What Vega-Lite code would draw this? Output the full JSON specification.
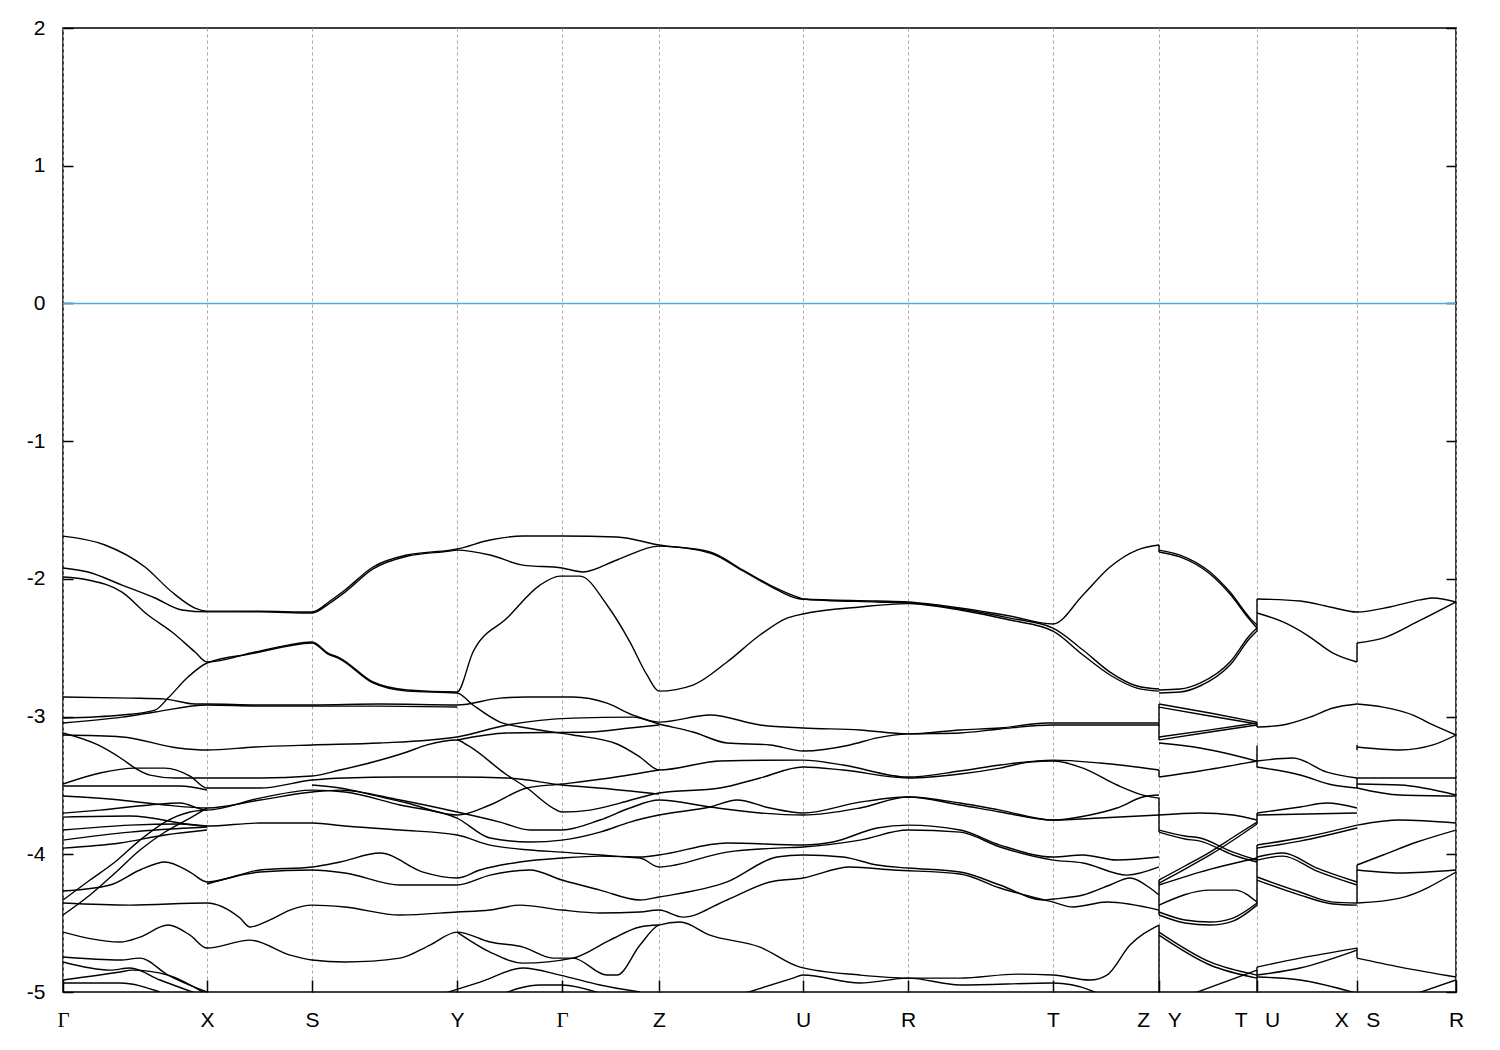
{
"$schema": "https://vega.github.io/schema/vega-lite/v6.json",
"width": 1393, "height": 964,
"autosize": {"type": "none"},
"padding": {"left": 63, "top": 28, "right": 44, "bottom": 58},
"background": "white",
"config": {"view": {"stroke": "black", "strokeWidth": 1.5}},
"resolve": {"axis": {"y": "independent", "x": "independent"}},
"datasets": {
"fermi": [{"e": 0}],
"jumps": [
{"b":"j1","x":1096,"e":-1.754},{"b":"j1","x":1096,"e":-1.805},
{"b":"j2","x":1096,"e":-2.909},{"b":"j2","x":1096,"e":-3.17},
{"b":"j3","x":1096,"e":-3.388},{"b":"j3","x":1096,"e":-3.439},
{"b":"j4","x":1096,"e":-3.592},{"b":"j4","x":1096,"e":-3.839},
{"b":"j5","x":1096,"e":-4.187},{"b":"j5","x":1096,"e":-4.441},
{"b":"j6","x":1096,"e":-4.514},{"b":"j6","x":1096,"e":-5.0},
{"b":"j7","x":1194,"e":-2.146},{"b":"j7","x":1194,"e":-2.38},
{"b":"j8","x":1194,"e":-3.04},{"b":"j8","x":1194,"e":-3.076},
{"b":"j9","x":1194,"e":-3.21},{"b":"j9","x":1194,"e":-3.37},
{"b":"j10","x":1194,"e":-3.7},{"b":"j10","x":1194,"e":-3.78},
{"b":"j11","x":1194,"e":-3.933},{"b":"j11","x":1194,"e":-4.369},
{"b":"j12","x":1194,"e":-4.819},{"b":"j12","x":1194,"e":-5.0},
{"b":"j13","x":1294,"e":-2.466},{"b":"j13","x":1294,"e":-2.604},
{"b":"j14","x":1294,"e":-3.206},{"b":"j14","x":1294,"e":-3.243},
{"b":"j15","x":1294,"e":-3.446},{"b":"j15","x":1294,"e":-3.519},
{"b":"j16","x":1294,"e":-4.078},{"b":"j16","x":1294,"e":-4.354},
{"b":"j17","x":1294,"e":-4.681},{"b":"j17","x":1294,"e":-4.754}
],
"bands": [
{"b":"A","x":0,"e":-1.69},{"b":"A","x":42,"e":-1.754},{"b":"A","x":82,"e":-1.914},{"b":"A","x":109,"e":-2.096},{"b":"A","x":132,"e":-2.212},{"b":"A","x":144,"e":-2.234},{"b":"A","x":197,"e":-2.235},{"b":"A","x":249,"e":-2.241},{"b":"A","x":267,"e":-2.161},{"b":"A","x":282,"e":-2.081},{"b":"A","x":310,"e":-1.914},{"b":"A","x":344,"e":-1.827},{"b":"A","x":387,"e":-1.791},{"b":"A","x":394,"e":-1.783},{"b":"A","x":427,"e":-1.718},{"b":"A","x":460,"e":-1.689},{"b":"A","x":499,"e":-1.689},{"b":"A","x":554,"e":-1.696},{"b":"A","x":596,"e":-1.754},{"b":"A","x":647,"e":-1.805},{"b":"A","x":680,"e":-1.936},{"b":"A","x":707,"e":-2.045},{"b":"A","x":737,"e":-2.139},{"b":"A","x":740,"e":-2.146},{"b":"A","x":814,"e":-2.161},{"b":"A","x":845,"e":-2.168},{"b":"A","x":897,"e":-2.212},{"b":"A","x":947,"e":-2.27},{"b":"A","x":990,"e":-2.328},{"b":"A","x":1020,"e":-2.117},{"b":"A","x":1047,"e":-1.914},{"b":"A","x":1074,"e":-1.791},{"b":"A","x":1096,"e":-1.754},
{"b":"A2","x":1096,"e":-1.791},{"b":"A2","x":1117,"e":-1.827},{"b":"A2","x":1147,"e":-1.95},{"b":"A2","x":1167,"e":-2.096},{"b":"A2","x":1187,"e":-2.285},{"b":"A2","x":1194,"e":-2.335},
{"b":"B","x":0,"e":-1.921},{"b":"B","x":25,"e":-1.95},{"b":"B","x":59,"e":-2.045},{"b":"B","x":92,"e":-2.139},{"b":"B","x":119,"e":-2.226},{"b":"B","x":144,"e":-2.24},{"b":"B","x":197,"e":-2.24},{"b":"B","x":249,"e":-2.248},{"b":"B","x":267,"e":-2.175},{"b":"B","x":282,"e":-2.096},{"b":"B","x":310,"e":-1.928},{"b":"B","x":344,"e":-1.836},{"b":"B","x":387,"e":-1.798},{"b":"B","x":394,"e":-1.791},{"b":"B","x":427,"e":-1.827},{"b":"B","x":460,"e":-1.9},{"b":"B","x":499,"e":-1.921},{"b":"B","x":520,"e":-1.95},{"b":"B","x":554,"e":-1.863},{"b":"B","x":596,"e":-1.762},{"b":"B","x":647,"e":-1.812},{"b":"B","x":680,"e":-1.943},{"b":"B","x":707,"e":-2.052},{"b":"B","x":737,"e":-2.146},{"b":"B","x":814,"e":-2.168},{"b":"B","x":845,"e":-2.175},{"b":"B","x":897,"e":-2.226},{"b":"B","x":947,"e":-2.299},{"b":"B","x":990,"e":-2.379},{"b":"B","x":1020,"e":-2.553},{"b":"B","x":1047,"e":-2.698},{"b":"B","x":1074,"e":-2.793},{"b":"B","x":1096,"e":-2.815},
{"b":"B2","x":1096,"e":-2.807},{"b":"B2","x":1117,"e":-2.8},{"b":"B2","x":1137,"e":-2.757},{"b":"B2","x":1167,"e":-2.604},{"b":"B2","x":1187,"e":-2.408},{"b":"B2","x":1194,"e":-2.357},
{"b":"C","x":0,"e":-1.987},{"b":"C","x":25,"e":-2.008},{"b":"C","x":59,"e":-2.096},{"b":"C","x":85,"e":-2.263},{"b":"C","x":109,"e":-2.386},{"b":"C","x":132,"e":-2.531},{"b":"C","x":144,"e":-2.604},{"b":"C","x":192,"e":-2.531},{"b":"C","x":225,"e":-2.481},{"b":"C","x":249,"e":-2.459},{"b":"C","x":265,"e":-2.539},{"b":"C","x":277,"e":-2.575},{"b":"C","x":310,"e":-2.749},{"b":"C","x":344,"e":-2.807},{"b":"C","x":394,"e":-2.822},{"b":"C","x":410,"e":-2.531},{"b":"C","x":444,"e":-2.285},{"b":"C","x":477,"e":-2.045},{"b":"C","x":497,"e":-1.98},{"b":"C","x":517,"e":-1.98},{"b":"C","x":544,"e":-2.19},{"b":"C","x":567,"e":-2.459},{"b":"C","x":584,"e":-2.698},{"b":"C","x":596,"e":-2.815},{"b":"C","x":630,"e":-2.771},{"b":"C","x":664,"e":-2.604},{"b":"C","x":697,"e":-2.408},{"b":"C","x":724,"e":-2.285},{"b":"C","x":740,"e":-2.255},{"b":"C","x":797,"e":-2.204},{"b":"C","x":845,"e":-2.18},{"b":"C","x":897,"e":-2.219},{"b":"C","x":947,"e":-2.285},{"b":"C","x":990,"e":-2.357},{"b":"C","x":1020,"e":-2.517},{"b":"C","x":1047,"e":-2.677},{"b":"C","x":1074,"e":-2.778},{"b":"C","x":1096,"e":-2.8},
{"b":"C2","x":1096,"e":-1.805},{"b":"C2","x":1117,"e":-1.841},{"b":"C2","x":1147,"e":-1.965},{"b":"C2","x":1167,"e":-2.11},{"b":"C2","x":1187,"e":-2.299},{"b":"C2","x":1194,"e":-2.357},
{"b":"C3","x":1096,"e":-2.829},{"b":"C3","x":1117,"e":-2.822},{"b":"C3","x":1137,"e":-2.778},{"b":"C3","x":1167,"e":-2.626},{"b":"C3","x":1187,"e":-2.43},{"b":"C3","x":1194,"e":-2.379},
{"b":"U1","x":1194,"e":-2.146},{"b":"U1","x":1237,"e":-2.161},{"b":"U1","x":1267,"e":-2.204},{"b":"U1","x":1294,"e":-2.241},{"b":"U1","x":1327,"e":-2.204},{"b":"U1","x":1357,"e":-2.153},{"b":"U1","x":1370,"e":-2.139},{"b":"U1","x":1393,"e":-2.168},
{"b":"U2a","x":1194,"e":-2.248},{"b":"U2a","x":1220,"e":-2.313},{"b":"U2a","x":1244,"e":-2.408},{"b":"U2a","x":1270,"e":-2.539},{"b":"U2a","x":1294,"e":-2.604},
{"b":"U2b","x":1294,"e":-2.466},{"b":"U2b","x":1320,"e":-2.43},{"b":"U2b","x":1354,"e":-2.313},{"b":"U2b","x":1393,"e":-2.168},
{"b":"D","x":0,"e":-2.858},{"b":"D","x":67,"e":-2.866},{"b":"D","x":102,"e":-2.873},{"b":"D","x":132,"e":-2.909},{"b":"D","x":144,"e":-2.909},{"b":"D","x":197,"e":-2.916},{"b":"D","x":249,"e":-2.916},{"b":"D","x":317,"e":-2.909},{"b":"D","x":394,"e":-2.916},{"b":"D","x":437,"e":-2.866},{"b":"D","x":464,"e":-2.858},{"b":"D","x":510,"e":-2.858},{"b":"D","x":544,"e":-2.902},{"b":"D","x":570,"e":-2.989},{"b":"D","x":596,"e":-3.04},{"b":"D","x":647,"e":-2.989},{"b":"D","x":697,"e":-3.061},{"b":"D","x":740,"e":-3.083},{"b":"D","x":797,"e":-3.097},{"b":"D","x":845,"e":-3.126},{"b":"D","x":897,"e":-3.097},{"b":"D","x":937,"e":-3.083},{"b":"D","x":984,"e":-3.047},{"b":"D","x":1037,"e":-3.047},{"b":"D","x":1096,"e":-3.047},
{"b":"E","x":0,"e":-3.011},{"b":"E","x":59,"e":-2.989},{"b":"E","x":92,"e":-2.953},{"b":"E","x":105,"e":-2.866},{"b":"E","x":125,"e":-2.713},{"b":"E","x":144,"e":-2.611},{"b":"E","x":192,"e":-2.539},{"b":"E","x":225,"e":-2.488},{"b":"E","x":249,"e":-2.466},{"b":"E","x":265,"e":-2.546},{"b":"E","x":277,"e":-2.582},{"b":"E","x":310,"e":-2.756},{"b":"E","x":344,"e":-2.815},{"b":"E","x":394,"e":-2.829},{"b":"E","x":410,"e":-2.916},{"b":"E","x":437,"e":-3.04},{"b":"E","x":464,"e":-3.083},{"b":"E","x":510,"e":-3.134},{"b":"E","x":554,"e":-3.199},{"b":"E","x":577,"e":-3.294},{"b":"E","x":596,"e":-3.388},{"b":"E","x":657,"e":-3.323},{"b":"E","x":740,"e":-3.316},{"b":"E","x":780,"e":-3.352},{"b":"E","x":845,"e":-3.439},{"b":"E","x":897,"e":-3.395},{"b":"E","x":937,"e":-3.352},{"b":"E","x":990,"e":-3.316},{"b":"E","x":1037,"e":-3.337},{"b":"E","x":1096,"e":-3.388},
{"b":"L3","x":0,"e":-3.047},{"b":"L3","x":59,"e":-3.004},{"b":"L3","x":92,"e":-2.967},{"b":"L3","x":144,"e":-2.916},{"b":"L3","x":197,"e":-2.924},{"b":"L3","x":249,"e":-2.924},{"b":"L3","x":317,"e":-2.924},{"b":"L3","x":394,"e":-2.931},
{"b":"b","x":0,"e":-3.134},{"b":"b","x":59,"e":-3.148},{"b":"b","x":115,"e":-3.228},{"b":"b","x":144,"e":-3.243},{"b":"b","x":192,"e":-3.221},{"b":"b","x":249,"e":-3.206},{"b":"b","x":317,"e":-3.192},{"b":"b","x":394,"e":-3.148},{"b":"b","x":444,"e":-3.061},{"b":"b","x":510,"e":-3.011},{"b":"b","x":570,"e":-3.004},{"b":"b","x":596,"e":-3.054},{"b":"b","x":630,"e":-3.112},{"b":"b","x":664,"e":-3.192},{"b":"b","x":707,"e":-3.206},{"b":"b","x":740,"e":-3.25},{"b":"b","x":787,"e":-3.206},{"b":"b","x":814,"e":-3.155},{"b":"b","x":845,"e":-3.126},{"b":"b","x":897,"e":-3.119},{"b":"b","x":937,"e":-3.09},{"b":"b","x":990,"e":-3.061},{"b":"b","x":1037,"e":-3.061},{"b":"b","x":1096,"e":-3.061},
{"b":"G","x":394,"e":-3.17},{"b":"G","x":444,"e":-3.119},{"b":"G","x":527,"e":-3.112},{"b":"G","x":567,"e":-3.083},{"b":"G","x":596,"e":-3.061},
{"b":"a","x":0,"e":-3.119},{"b":"a","x":35,"e":-3.206},{"b":"a","x":59,"e":-3.308},{"b":"a","x":72,"e":-3.374},{"b":"a","x":87,"e":-3.425},{"b":"a","x":112,"e":-3.446},{"b":"a","x":144,"e":-3.446},{"b":"a","x":197,"e":-3.446},{"b":"a","x":249,"e":-3.432},{"b":"a","x":277,"e":-3.388},{"b":"a","x":310,"e":-3.33},{"b":"a","x":344,"e":-3.257},{"b":"a","x":364,"e":-3.206},{"b":"a","x":394,"e":-3.17},{"b":"a","x":404,"e":-3.206},{"b":"a","x":444,"e":-3.424},{"b":"a","x":464,"e":-3.519},{"b":"a","x":490,"e":-3.664},{"b":"a","x":499,"e":-3.693},{"b":"a","x":527,"e":-3.679},{"b":"a","x":557,"e":-3.628},{"b":"a","x":596,"e":-3.555},{"b":"a","x":657,"e":-3.519},{"b":"a","x":697,"e":-3.446},{"b":"a","x":740,"e":-3.366},{"b":"a","x":780,"e":-3.388},{"b":"a","x":845,"e":-3.446},{"b":"a","x":897,"e":-3.417},{"b":"a","x":937,"e":-3.374},{"b":"a","x":967,"e":-3.33},{"b":"a","x":990,"e":-3.323},{"b":"a","x":1020,"e":-3.374},{"b":"a","x":1054,"e":-3.497},{"b":"a","x":1080,"e":-3.57},{"b":"a","x":1096,"e":-3.592},
{"b":"c","x":0,"e":-3.49},{"b":"c","x":37,"e":-3.41},{"b":"c","x":72,"e":-3.374},{"b":"c","x":102,"e":-3.374},{"b":"c","x":127,"e":-3.432},{"b":"c","x":144,"e":-3.519},{"b":"c","x":197,"e":-3.519},{"b":"c","x":249,"e":-3.461},{"b":"c","x":282,"e":-3.446},{"b":"c","x":337,"e":-3.439},{"b":"c","x":394,"e":-3.439},{"b":"c","x":444,"e":-3.446},{"b":"c","x":499,"e":-3.497},{"b":"c","x":547,"e":-3.526},{"b":"c","x":596,"e":-3.563},
{"b":"c2","x":0,"e":-3.504},{"b":"c2","x":67,"e":-3.504},{"b":"c2","x":117,"e":-3.504},{"b":"c2","x":144,"e":-3.533},
{"b":"H","x":249,"e":-3.497},{"b":"H","x":277,"e":-3.519},{"b":"H","x":310,"e":-3.57},{"b":"H","x":344,"e":-3.628},{"b":"H","x":394,"e":-3.715},{"b":"H","x":427,"e":-3.642},{"b":"H","x":464,"e":-3.519},{"b":"H","x":499,"e":-3.49},{"b":"H","x":547,"e":-3.446},{"b":"H","x":596,"e":-3.388},
{"b":"I1","x":0,"e":-3.577},{"b":"I1","x":57,"e":-3.606},{"b":"I1","x":102,"e":-3.642},{"b":"I1","x":144,"e":-3.664},{"b":"I1","x":197,"e":-3.606},{"b":"I1","x":249,"e":-3.548},{"b":"I1","x":277,"e":-3.534},{"b":"I1","x":337,"e":-3.606},{"b":"I1","x":394,"e":-3.693},{"b":"I1","x":437,"e":-3.766},{"b":"I1","x":467,"e":-3.824},{"b":"I1","x":499,"e":-3.824},{"b":"I1","x":537,"e":-3.751},{"b":"I1","x":567,"e":-3.664},{"b":"I1","x":596,"e":-3.606},{"b":"I1","x":647,"e":-3.657},{"b":"I1","x":697,"e":-3.7},{"b":"I1","x":740,"e":-3.715},{"b":"I1","x":797,"e":-3.664},{"b":"I1","x":845,"e":-3.584},{"b":"I1","x":897,"e":-3.628},{"b":"I1","x":937,"e":-3.679},{"b":"I1","x":990,"e":-3.751},{"b":"I1","x":1027,"e":-3.715},{"b":"I1","x":1054,"e":-3.664},{"b":"I1","x":1080,"e":-3.584},{"b":"I1","x":1096,"e":-3.57},
{"b":"I2","x":0,"e":-3.701},{"b":"I2","x":37,"e":-3.679},{"b":"I2","x":87,"e":-3.642},{"b":"I2","x":117,"e":-3.628},{"b":"I2","x":144,"e":-3.679},{"b":"I2","x":197,"e":-3.592},{"b":"I2","x":249,"e":-3.534},{"b":"I2","x":282,"e":-3.548},{"b":"I2","x":337,"e":-3.642},{"b":"I2","x":394,"e":-3.737},{"b":"I2","x":427,"e":-3.882},{"b":"I2","x":467,"e":-3.911},{"b":"I2","x":499,"e":-3.897},{"b":"I2","x":537,"e":-3.839},{"b":"I2","x":567,"e":-3.766},{"b":"I2","x":596,"e":-3.715},{"b":"I2","x":647,"e":-3.657},{"b":"I2","x":674,"e":-3.606},{"b":"I2","x":707,"e":-3.664},{"b":"I2","x":740,"e":-3.7},{"b":"I2","x":797,"e":-3.621},{"b":"I2","x":845,"e":-3.584},{"b":"I2","x":897,"e":-3.642},{"b":"I2","x":937,"e":-3.693},{"b":"I2","x":990,"e":-3.751},{"b":"I2","x":1037,"e":-3.737},{"b":"I2","x":1096,"e":-3.715},
{"b":"I3","x":0,"e":-3.73},{"b":"I3","x":67,"e":-3.722},{"b":"I3","x":144,"e":-3.795},{"b":"I3","x":197,"e":-3.773},{"b":"I3","x":249,"e":-3.773},{"b":"I3","x":282,"e":-3.795},{"b":"I3","x":337,"e":-3.824},{"b":"I3","x":394,"e":-3.86},{"b":"I3","x":427,"e":-3.933},{"b":"I3","x":467,"e":-3.969},{"b":"I3","x":499,"e":-3.984},{"b":"I3","x":537,"e":-4.005},{"b":"I3","x":577,"e":-4.02},{"b":"I3","x":596,"e":-4.005},{"b":"I3","x":664,"e":-3.918},{"b":"I3","x":740,"e":-3.933},{"b":"I3","x":770,"e":-3.911},{"b":"I3","x":814,"e":-3.809},{"b":"I3","x":845,"e":-3.788},{"b":"I3","x":897,"e":-3.824},{"b":"I3","x":937,"e":-3.933},{"b":"I3","x":990,"e":-4.02},{"b":"I3","x":1020,"e":-4.005},{"b":"I3","x":1054,"e":-4.042},{"b":"I3","x":1096,"e":-4.02},
{"b":"I4","x":0,"e":-3.824},{"b":"I4","x":67,"e":-3.788},{"b":"I4","x":117,"e":-3.78},{"b":"I4","x":144,"e":-3.795},
{"b":"I5","x":0,"e":-3.897},{"b":"I5","x":67,"e":-3.839},{"b":"I5","x":144,"e":-3.802},
{"b":"I5b","x":0,"e":-3.955},{"b":"I5b","x":57,"e":-3.918},{"b":"I5b","x":102,"e":-3.86},{"b":"I5b","x":144,"e":-3.824},
{"b":"I6","x":0,"e":-4.441},{"b":"I6","x":27,"e":-4.296},{"b":"I6","x":52,"e":-4.136},{"b":"I6","x":77,"e":-3.969},{"b":"I6","x":102,"e":-3.838},{"b":"I6","x":127,"e":-3.737},{"b":"I6","x":144,"e":-3.664},
{"b":"I7","x":0,"e":-4.332},{"b":"I7","x":27,"e":-4.187},{"b":"I7","x":52,"e":-4.056},{"b":"I7","x":77,"e":-3.897},{"b":"I7","x":102,"e":-3.766},{"b":"I7","x":127,"e":-3.693},{"b":"I7","x":144,"e":-3.679},
{"b":"I8","x":0,"e":-4.267},{"b":"I8","x":47,"e":-4.223},{"b":"I8","x":77,"e":-4.114},{"b":"I8","x":102,"e":-4.056},{"b":"I8","x":127,"e":-4.129},{"b":"I8","x":144,"e":-4.201},{"b":"I8","x":197,"e":-4.114},{"b":"I8","x":249,"e":-4.092},{"b":"I8","x":277,"e":-4.056},{"b":"I8","x":317,"e":-3.991},{"b":"I8","x":360,"e":-4.129},{"b":"I8","x":394,"e":-4.172},{"b":"I8","x":417,"e":-4.114},{"b":"I8","x":457,"e":-4.056},{"b":"I8","x":499,"e":-4.027},{"b":"I8","x":537,"e":-4.013},{"b":"I8","x":577,"e":-4.027},{"b":"I8","x":596,"e":-4.092},{"b":"I8","x":664,"e":-3.984},{"b":"I8","x":714,"e":-3.955},{"b":"I8","x":740,"e":-3.947},{"b":"I8","x":797,"e":-3.897},{"b":"I8","x":845,"e":-3.824},{"b":"I8","x":897,"e":-3.839},{"b":"I8","x":937,"e":-3.947},{"b":"I8","x":990,"e":-4.042},{"b":"I8","x":1020,"e":-4.063},{"b":"I8","x":1064,"e":-4.151},{"b":"I8","x":1096,"e":-4.092},
{"b":"I8b","x":144,"e":-4.216},{"b":"I8b","x":197,"e":-4.129},{"b":"I8b","x":249,"e":-4.114},{"b":"I8b","x":282,"e":-4.136},{"b":"I8b","x":337,"e":-4.223},{"b":"I8b","x":394,"e":-4.223},{"b":"I8b","x":427,"e":-4.151},{"b":"I8b","x":467,"e":-4.114},{"b":"I8b","x":499,"e":-4.187},{"b":"I8b","x":537,"e":-4.26},{"b":"I8b","x":577,"e":-4.332},{"b":"I8b","x":596,"e":-4.31},{"b":"I8b","x":664,"e":-4.201},{"b":"I8b","x":714,"e":-4.02},{"b":"I8b","x":740,"e":-4.005},{"b":"I8b","x":780,"e":-4.02},{"b":"I8b","x":814,"e":-4.078},{"b":"I8b","x":845,"e":-4.1},{"b":"I8b","x":897,"e":-4.129},{"b":"I8b","x":937,"e":-4.223},{"b":"I8b","x":980,"e":-4.332},{"b":"I8b","x":990,"e":-4.325},{"b":"I8b","x":1020,"e":-4.296},{"b":"I8b","x":1047,"e":-4.223},{"b":"I8b","x":1067,"e":-4.172},{"b":"I8b","x":1087,"e":-4.245},{"b":"I8b","x":1096,"e":-4.296},
{"b":"I9","x":0,"e":-4.354},{"b":"I9","x":67,"e":-4.369},{"b":"I9","x":144,"e":-4.354},{"b":"I9","x":177,"e":-4.463},{"b":"I9","x":187,"e":-4.528},{"b":"I9","x":207,"e":-4.477},{"b":"I9","x":227,"e":-4.405},{"b":"I9","x":249,"e":-4.369},{"b":"I9","x":282,"e":-4.383},{"b":"I9","x":337,"e":-4.441},{"b":"I9","x":394,"e":-4.419},{"b":"I9","x":427,"e":-4.405},{"b":"I9","x":457,"e":-4.369},{"b":"I9","x":499,"e":-4.405},{"b":"I9","x":537,"e":-4.426},{"b":"I9","x":577,"e":-4.419},{"b":"I9","x":596,"e":-4.405},{"b":"I9","x":620,"e":-4.456},{"b":"I9","x":664,"e":-4.332},{"b":"I9","x":707,"e":-4.201},{"b":"I9","x":740,"e":-4.172},{"b":"I9","x":787,"e":-4.092},{"b":"I9","x":830,"e":-4.114},{"b":"I9","x":897,"e":-4.143},{"b":"I9","x":937,"e":-4.245},{"b":"I9","x":990,"e":-4.347},{"b":"I9","x":1010,"e":-4.383},{"b":"I9","x":1044,"e":-4.347},{"b":"I9","x":1096,"e":-4.405},
{"b":"I10","x":0,"e":-4.565},{"b":"I10","x":57,"e":-4.637},{"b":"I10","x":77,"e":-4.601},{"b":"I10","x":105,"e":-4.514},{"b":"I10","x":127,"e":-4.587},{"b":"I10","x":144,"e":-4.681},{"b":"I10","x":187,"e":-4.623},{"b":"I10","x":227,"e":-4.732},{"b":"I10","x":249,"e":-4.768},{"b":"I10","x":282,"e":-4.782},{"b":"I10","x":337,"e":-4.754},{"b":"I10","x":367,"e":-4.659},{"b":"I10","x":394,"e":-4.565},{"b":"I10","x":427,"e":-4.637},{"b":"I10","x":460,"e":-4.674},{"b":"I10","x":490,"e":-4.754},{"b":"I10","x":510,"e":-4.754},{"b":"I10","x":544,"e":-4.877},{"b":"I10","x":554,"e":-4.877},{"b":"I10","x":577,"e":-4.659},{"b":"I10","x":596,"e":-4.514},{"b":"I10","x":617,"e":-4.492},{"b":"I10","x":647,"e":-4.587},{"b":"I10","x":697,"e":-4.674},{"b":"I10","x":737,"e":-4.819},{"b":"I10","x":797,"e":-4.877},{"b":"I10","x":845,"e":-4.899},{"b":"I10","x":897,"e":-4.899},{"b":"I10","x":954,"e":-4.87},{"b":"I10","x":990,"e":-4.877},{"b":"I10","x":1027,"e":-4.913},{"b":"I10","x":1044,"e":-4.877},{"b":"I10","x":1067,"e":-4.659},{"b":"I10","x":1096,"e":-4.514},
{"b":"I10b","x":394,"e":-4.565},{"b":"I10b","x":427,"e":-4.71},{"b":"I10b","x":460,"e":-4.79},{"b":"I10b","x":510,"e":-4.754},{"b":"I10b","x":547,"e":-4.623},{"b":"I10b","x":577,"e":-4.528},{"b":"I10b","x":596,"e":-4.514},
{"b":"I11","x":0,"e":-4.746},{"b":"I11","x":57,"e":-4.768},{"b":"I11","x":77,"e":-4.754},{"b":"I11","x":105,"e":-4.877},{"b":"I11","x":144,"e":-5.0},
{"b":"I12","x":0,"e":-4.782},{"b":"I12","x":47,"e":-4.841},{"b":"I12","x":67,"e":-4.826},{"b":"I12","x":97,"e":-4.913},{"b":"I12","x":137,"e":-5.02},
{"b":"I13","x":0,"e":-4.913},{"b":"I13","x":57,"e":-4.855},{"b":"I13","x":69,"e":-4.841},{"b":"I13","x":105,"e":-4.877},{"b":"I13","x":142,"e":-5.01},
{"b":"I14","x":0,"e":-4.935},{"b":"I14","x":57,"e":-4.935},{"b":"I14","x":97,"e":-5.0},
{"b":"J10","x":377,"e":-5.02},{"b":"J10","x":417,"e":-4.928},{"b":"J10","x":460,"e":-4.826},{"b":"J10","x":497,"e":-4.877},{"b":"J10","x":537,"e":-4.949},{"b":"J10","x":577,"e":-5.0},
{"b":"J11","x":437,"e":-5.02},{"b":"J11","x":477,"e":-4.949},{"b":"J11","x":499,"e":-4.949},{"b":"J11","x":537,"e":-5.01},
{"b":"R313","x":677,"e":-5.02},{"b":"R313","x":730,"e":-4.899},{"b":"R313","x":740,"e":-4.877},{"b":"R313","x":797,"e":-4.935},{"b":"R313","x":845,"e":-4.899},{"b":"R313","x":897,"e":-4.949},{"b":"R313","x":990,"e":-4.935},{"b":"R313","x":1027,"e":-4.986},{"b":"R313","x":1037,"e":-5.02},
{"b":"R41","x":1096,"e":-2.909},{"b":"R41","x":1147,"e":-2.974},{"b":"R41","x":1194,"e":-3.04},
{"b":"R41b","x":1096,"e":-2.931},{"b":"R41b","x":1147,"e":-2.996},{"b":"R41b","x":1194,"e":-3.054},
{"b":"R42","x":1096,"e":-3.148},{"b":"R42","x":1147,"e":-3.097},{"b":"R42","x":1194,"e":-3.047},
{"b":"R42b","x":1096,"e":-3.17},{"b":"R42b","x":1147,"e":-3.112},{"b":"R42b","x":1194,"e":-3.061},
{"b":"R43","x":1096,"e":-3.439},{"b":"R43","x":1137,"e":-3.395},{"b":"R43","x":1194,"e":-3.323},
{"b":"R44","x":1096,"e":-3.192},{"b":"R44","x":1137,"e":-3.228},{"b":"R44","x":1194,"e":-3.323},
{"b":"R45","x":1096,"e":-3.824},{"b":"R45","x":1122,"e":-3.867},{"b":"R45","x":1137,"e":-3.882},{"b":"R45","x":1170,"e":-3.984},{"b":"R45","x":1194,"e":-4.042},
{"b":"R45b","x":1096,"e":-3.839},{"b":"R45b","x":1122,"e":-3.889},{"b":"R45b","x":1137,"e":-3.904},{"b":"R45b","x":1170,"e":-4.005},{"b":"R45b","x":1194,"e":-4.056},
{"b":"R46","x":1096,"e":-3.715},{"b":"R46","x":1137,"e":-3.7},{"b":"R46","x":1170,"e":-3.715},{"b":"R46","x":1194,"e":-3.751},
{"b":"R47","x":1096,"e":-4.187},{"b":"R47","x":1122,"e":-4.085},{"b":"R47","x":1147,"e":-3.984},{"b":"R47","x":1172,"e":-3.867},{"b":"R47","x":1194,"e":-3.766},
{"b":"R47b","x":1096,"e":-4.209},{"b":"R47b","x":1122,"e":-4.107},{"b":"R47b","x":1147,"e":-4.005},{"b":"R47b","x":1172,"e":-3.889},{"b":"R47b","x":1194,"e":-3.78},
{"b":"R48","x":1096,"e":-4.223},{"b":"R48","x":1137,"e":-4.129},{"b":"R48","x":1194,"e":-4.027},
{"b":"R49","x":1096,"e":-4.369},{"b":"R49","x":1147,"e":-4.26},{"b":"R49","x":1172,"e":-4.26},{"b":"R49","x":1194,"e":-4.347},
{"b":"R410","x":1096,"e":-4.419},{"b":"R410","x":1122,"e":-4.477},{"b":"R410","x":1147,"e":-4.492},{"b":"R410","x":1170,"e":-4.463},{"b":"R410","x":1194,"e":-4.354},
{"b":"R410b","x":1096,"e":-4.441},{"b":"R410b","x":1122,"e":-4.499},{"b":"R410b","x":1147,"e":-4.514},{"b":"R410b","x":1170,"e":-4.485},{"b":"R410b","x":1194,"e":-4.369},
{"b":"R411","x":1096,"e":-4.565},{"b":"R411","x":1147,"e":-4.782},{"b":"R411","x":1194,"e":-4.877},
{"b":"R411b","x":1096,"e":-4.587},{"b":"R411b","x":1147,"e":-4.804},{"b":"R411b","x":1194,"e":-4.899},
{"b":"R412","x":1127,"e":-5.02},{"b":"R412","x":1194,"e":-4.841},
{"b":"R51","x":1194,"e":-3.076},{"b":"R51","x":1220,"e":-3.061},{"b":"R51","x":1247,"e":-3.004},{"b":"R51","x":1270,"e":-2.938},{"b":"R51","x":1294,"e":-2.909},
{"b":"R52","x":1194,"e":-3.323},{"b":"R52","x":1230,"e":-3.301},{"b":"R52","x":1264,"e":-3.403},{"b":"R52","x":1294,"e":-3.446},
{"b":"R53","x":1194,"e":-3.366},{"b":"R53","x":1237,"e":-3.424},{"b":"R53","x":1270,"e":-3.497},{"b":"R53","x":1294,"e":-3.519},
{"b":"R55","x":1194,"e":-3.7},{"b":"R55","x":1237,"e":-3.657},{"b":"R55","x":1264,"e":-3.628},{"b":"R55","x":1294,"e":-3.664},
{"b":"R56","x":1194,"e":-3.715},{"b":"R56","x":1294,"e":-3.7},
{"b":"R57","x":1194,"e":-3.933},{"b":"R57","x":1237,"e":-3.882},{"b":"R57","x":1294,"e":-3.788},
{"b":"R57b","x":1194,"e":-3.955},{"b":"R57b","x":1237,"e":-3.904},{"b":"R57b","x":1294,"e":-3.809},
{"b":"R58","x":1194,"e":-4.02},{"b":"R58","x":1220,"e":-3.991},{"b":"R58","x":1254,"e":-4.1},{"b":"R58","x":1294,"e":-4.201},
{"b":"R58b","x":1194,"e":-4.042},{"b":"R58b","x":1220,"e":-4.013},{"b":"R58b","x":1254,"e":-4.122},{"b":"R58b","x":1294,"e":-4.223},
{"b":"R59","x":1194,"e":-4.165},{"b":"R59","x":1237,"e":-4.274},{"b":"R59","x":1270,"e":-4.347},{"b":"R59","x":1294,"e":-4.354},
{"b":"R59b","x":1194,"e":-4.187},{"b":"R59b","x":1237,"e":-4.296},{"b":"R59b","x":1270,"e":-4.361},{"b":"R59b","x":1294,"e":-4.369},
{"b":"R510","x":1194,"e":-4.819},{"b":"R510","x":1237,"e":-4.754},{"b":"R510","x":1294,"e":-4.681},
{"b":"R510b","x":1194,"e":-4.877},{"b":"R510b","x":1237,"e":-4.826},{"b":"R510b","x":1294,"e":-4.696},
{"b":"R511","x":1194,"e":-4.891},{"b":"R511","x":1237,"e":-4.913},{"b":"R511","x":1294,"e":-5.01},
{"b":"R61","x":1294,"e":-2.909},{"b":"R61","x":1320,"e":-2.931},{"b":"R61","x":1350,"e":-2.989},{"b":"R61","x":1370,"e":-3.061},{"b":"R61","x":1393,"e":-3.134},
{"b":"R62","x":1294,"e":-3.221},{"b":"R62","x":1337,"e":-3.243},{"b":"R62","x":1370,"e":-3.206},{"b":"R62","x":1393,"e":-3.134},
{"b":"R64","x":1294,"e":-3.446},{"b":"R64","x":1337,"e":-3.446},{"b":"R64","x":1393,"e":-3.446},
{"b":"R65","x":1294,"e":-3.49},{"b":"R65","x":1337,"e":-3.497},{"b":"R65","x":1393,"e":-3.57},
{"b":"R66","x":1294,"e":-3.519},{"b":"R66","x":1337,"e":-3.57},{"b":"R66","x":1393,"e":-3.577},
{"b":"R67","x":1294,"e":-3.788},{"b":"R67","x":1337,"e":-3.751},{"b":"R67","x":1393,"e":-3.773},
{"b":"R68","x":1294,"e":-4.078},{"b":"R68","x":1320,"e":-4.005},{"b":"R68","x":1354,"e":-3.911},{"b":"R68","x":1393,"e":-3.824},
{"b":"R69","x":1294,"e":-4.114},{"b":"R69","x":1337,"e":-4.136},{"b":"R69","x":1393,"e":-4.114},
{"b":"R610","x":1294,"e":-4.354},{"b":"R610","x":1337,"e":-4.318},{"b":"R610","x":1393,"e":-4.129},
{"b":"R611","x":1294,"e":-4.754},{"b":"R611","x":1337,"e":-4.819},{"b":"R611","x":1393,"e":-4.891},
{"b":"R612","x":1354,"e":-5.01},{"b":"R612","x":1393,"e":-4.913}
]
},
"layer": [
{
"data": {"name": "bands"},
"mark": {"type": "line", "color": "black", "strokeWidth": 1.4, "clip": true, "interpolate": "monotone"},
"encoding": {
"x": {"field": "x", "type": "quantitative", "scale": {"domain": [0, 1393], "nice": false, "zero": false},
"axis": {"values": [0,144,249,394,499,596,740,845,990,1096,1194,1294,1393],
"labelExpr": "datum.value==0||datum.value==499?'Γ':datum.value==144?'X':datum.value==249?'S':datum.value==394?'Y':datum.value==596?'Z':datum.value==740?'U':datum.value==845?'R':datum.value==990?'T':datum.value==1096?'Z\u00a0\u00a0\u00a0Y':datum.value==1194?'T\u00a0\u00a0\u00a0U':datum.value==1294?'X\u00a0\u00a0\u00a0S':'R'",
"title": null, "domain": false, "grid": true, "gridDash": [3, 3], "gridColor": "#a8a8a8", "gridWidth": 1,
"tickSize": -12, "tickColor": "black", "tickWidth": 1.5, "labelPadding": 29,
"labelFontSize": 21, "labelFont": {"condition": {"test": "datum.value==0||datum.value==499", "value": "Liberation Serif"}, "value": "Liberation Sans"},
"labelColor": "black", "labelFlush": false, "labelBound": false, "labelOverlap": false, "labelAngle": 0}},
"y": {"field": "e", "type": "quantitative", "scale": {"domain": [-5, 2], "nice": false, "zero": false},
"axis": {"values": [-5,-4,-3,-2,-1,0,1,2], "labelExpr": "''+datum.value", "title": null, "domain": false, "grid": false,
"tickSize": -10, "tickColor": "black", "tickWidth": 1.5, "labelPadding": 28,
"labelFontSize": 21, "labelFont": "Liberation Sans", "labelColor": "black", "labelFlush": false, "labelBound": false}},
"detail": {"field": "b"}
}
},
{
"data": {"name": "jumps"},
"mark": {"type": "line", "color": "black", "strokeWidth": 1.4, "clip": true},
"encoding": {
"x": {"field": "x", "type": "quantitative", "axis": null},
"y": {"field": "e", "type": "quantitative", "axis": null},
"detail": {"field": "b"}
}
},
{
"data": {"name": "fermi"},
"mark": {"type": "rule", "color": "#4BA9E2", "strokeWidth": 1.5},
"encoding": {
"y": {"field": "e", "type": "quantitative",
"axis": {"orient": "right", "values": [-5,-4,-3,-2,-1,0,1,2], "title": null, "domain": false, "grid": false, "labels": false,
"tickSize": -10, "tickColor": "black", "tickWidth": 1.5}}
}
}
]
}
